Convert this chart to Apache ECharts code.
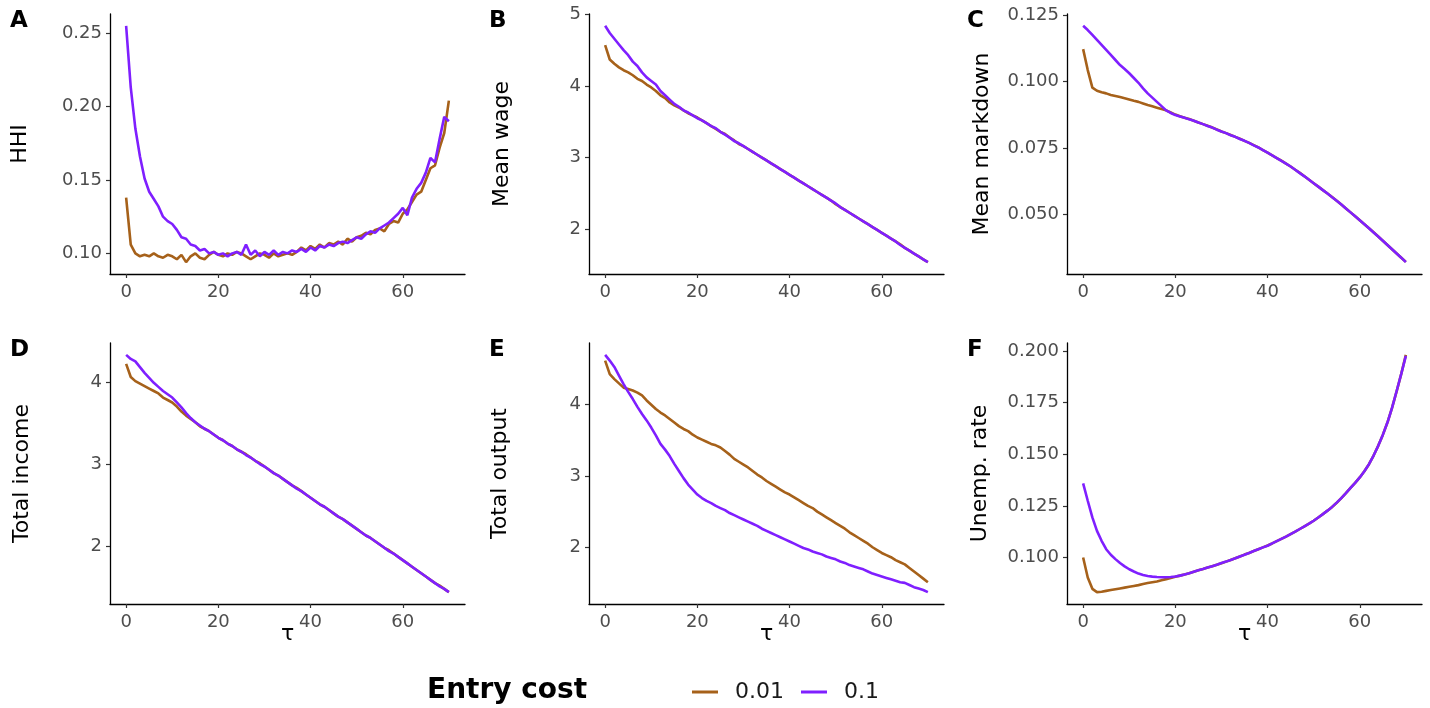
<!DOCTYPE html>
<html>
<head>
<meta charset="utf-8">
<script src="https://cdn.jsdelivr.net/npm/echarts@6/dist/echarts.min.js"></script>
<style>
html,body{margin:0;padding:0;background:#fff;}
#chart{width:1430px;height:708px;}
</style>
</head>
<body>
<div id="chart"></div>
<script>
// ---------- data ----------
const tau = [0,1,2,3,4,5,6,7,8,9,10,11,12,13,14,15,16,17,18,19,20,21,22,23,24,25,26,27,28,29,30,31,32,33,34,35,36,37,38,39,40,41,42,43,44,45,46,47,48,49,50,51,52,53,54,55,56,57,58,59,60,61,62,63,64,65,66,67,68,69,70];
const seriesNames = ["0.01", "0.1"];
const xTicks = [0, 20, 40, 60];

// A: HHI
const hhiLow = [0.138,0.106,0.100,0.098,0.099,0.098,0.100,0.098,0.097,0.099,0.098,0.096,0.099,0.094,0.098,0.100,0.097,0.096,0.099,0.101,0.099,0.098,0.100,0.099,0.101,0.100,0.098,0.096,0.098,0.100,0.099,0.097,0.100,0.098,0.099,0.100,0.099,0.101,0.104,0.102,0.105,0.103,0.106,0.104,0.107,0.106,0.108,0.106,0.110,0.108,0.111,0.112,0.114,0.113,0.116,0.117,0.115,0.120,0.122,0.121,0.127,0.130,0.135,0.140,0.142,0.150,0.158,0.160,0.172,0.182,0.204];
const hhiHigh = [0.255,0.213,0.185,0.166,0.151,0.142,0.137,0.132,0.125,0.122,0.120,0.116,0.111,0.110,0.106,0.105,0.102,0.103,0.100,0.101,0.099,0.100,0.098,0.100,0.101,0.099,0.106,0.099,0.102,0.098,0.101,0.099,0.102,0.099,0.101,0.100,0.102,0.101,0.103,0.101,0.104,0.102,0.105,0.104,0.106,0.105,0.107,0.108,0.107,0.109,0.111,0.110,0.113,0.115,0.114,0.117,0.119,0.121,0.124,0.127,0.131,0.126,0.138,0.144,0.148,0.155,0.165,0.162,0.178,0.193,0.190];

// B: Mean wage
const wageLow = [4.57,4.37,4.31,4.26,4.22,4.19,4.15,4.10,4.07,4.02,3.98,3.93,3.87,3.83,3.77,3.73,3.70,3.66,3.62,3.59,3.56,3.52,3.48,3.44,3.40,3.36,3.33,3.28,3.24,3.19,3.16,3.12,3.08,3.04,3.00,2.96,2.92,2.88,2.84,2.80,2.76,2.72,2.68,2.64,2.60,2.56,2.52,2.48,2.44,2.40,2.35,2.31,2.27,2.23,2.19,2.15,2.11,2.07,2.03,1.99,1.95,1.91,1.87,1.83,1.79,1.74,1.70,1.66,1.62,1.58,1.54];
const wageHigh = [4.84,4.74,4.66,4.58,4.50,4.43,4.34,4.28,4.19,4.12,4.07,4.02,3.93,3.87,3.81,3.75,3.71,3.66,3.63,3.59,3.55,3.52,3.48,3.44,3.41,3.36,3.32,3.28,3.23,3.20,3.16,3.12,3.08,3.04,3.00,2.96,2.92,2.88,2.84,2.80,2.76,2.72,2.68,2.64,2.60,2.56,2.52,2.48,2.44,2.40,2.36,2.31,2.27,2.23,2.19,2.15,2.11,2.07,2.03,1.99,1.95,1.91,1.87,1.83,1.78,1.74,1.70,1.66,1.62,1.58,1.54];

// C: Mean markdown
const markLow = [0.1123,0.1044,0.0978,0.0966,0.0960,0.0956,0.0950,0.0946,0.0942,0.0938,0.0933,0.0928,0.0924,0.0918,0.0912,0.0907,0.0902,0.0897,0.0892,0.0884,0.0876,0.0870,0.0864,0.0859,0.0853,0.0846,0.0840,0.0834,0.0827,0.0820,0.0812,0.0806,0.0799,0.0792,0.0785,0.0777,0.0769,0.0761,0.0752,0.0742,0.0732,0.0722,0.0712,0.0702,0.0691,0.0680,0.0668,0.0656,0.0643,0.0630,0.0617,0.0604,0.0591,0.0578,0.0565,0.0551,0.0537,0.0522,0.0507,0.0492,0.0477,0.0462,0.0447,0.0432,0.0416,0.0400,0.0384,0.0368,0.0352,0.0336,0.0320];
const markHigh = [0.1211,0.1195,0.1177,0.1158,0.1139,0.1120,0.1101,0.1082,0.1063,0.1048,0.1032,0.1014,0.0996,0.0975,0.0956,0.0940,0.0924,0.0908,0.0892,0.0882,0.0874,0.0869,0.0864,0.0858,0.0853,0.0846,0.0840,0.0833,0.0827,0.0819,0.0812,0.0806,0.0798,0.0792,0.0784,0.0777,0.0769,0.0760,0.0752,0.0742,0.0732,0.0722,0.0712,0.0701,0.0691,0.0680,0.0668,0.0655,0.0643,0.0630,0.0617,0.0604,0.0591,0.0578,0.0564,0.0551,0.0537,0.0522,0.0507,0.0492,0.0477,0.0462,0.0447,0.0431,0.0416,0.0400,0.0384,0.0368,0.0352,0.0336,0.0319];

// D: Total income
const incomeLow = [4.22,4.06,4.01,3.98,3.95,3.92,3.89,3.86,3.81,3.78,3.75,3.70,3.64,3.59,3.55,3.51,3.46,3.43,3.40,3.36,3.32,3.29,3.25,3.22,3.18,3.15,3.12,3.08,3.04,3.01,2.97,2.93,2.89,2.86,2.82,2.78,2.74,2.71,2.67,2.63,2.59,2.55,2.51,2.48,2.44,2.40,2.36,2.33,2.29,2.25,2.21,2.17,2.13,2.10,2.06,2.02,1.98,1.95,1.91,1.87,1.83,1.79,1.75,1.71,1.67,1.63,1.59,1.55,1.52,1.48,1.44];
const incomeHigh = [4.33,4.28,4.25,4.18,4.11,4.05,3.99,3.94,3.89,3.85,3.81,3.75,3.69,3.62,3.56,3.51,3.47,3.43,3.40,3.36,3.32,3.29,3.25,3.22,3.18,3.15,3.11,3.08,3.04,3.00,2.97,2.93,2.89,2.86,2.82,2.78,2.74,2.70,2.67,2.63,2.59,2.55,2.51,2.48,2.44,2.40,2.36,2.33,2.29,2.25,2.21,2.17,2.13,2.10,2.06,2.02,1.98,1.94,1.91,1.87,1.83,1.79,1.75,1.71,1.67,1.63,1.59,1.55,1.51,1.48,1.44];

// E: Total output
const outputLow = [4.62,4.43,4.36,4.30,4.24,4.22,4.20,4.17,4.13,4.06,4.00,3.94,3.89,3.85,3.80,3.75,3.70,3.66,3.63,3.58,3.54,3.51,3.48,3.45,3.43,3.40,3.35,3.30,3.24,3.20,3.16,3.12,3.07,3.02,2.98,2.93,2.89,2.85,2.81,2.77,2.74,2.70,2.66,2.62,2.58,2.55,2.50,2.46,2.42,2.38,2.34,2.30,2.26,2.21,2.17,2.13,2.09,2.05,2.00,1.96,1.92,1.89,1.86,1.82,1.79,1.76,1.71,1.66,1.61,1.56,1.51];
const outputHigh = [4.70,4.62,4.53,4.41,4.29,4.18,4.08,3.97,3.87,3.78,3.68,3.57,3.45,3.37,3.28,3.17,3.07,2.97,2.88,2.81,2.74,2.69,2.65,2.62,2.58,2.55,2.52,2.48,2.45,2.42,2.39,2.36,2.33,2.30,2.26,2.23,2.20,2.17,2.14,2.11,2.08,2.05,2.02,1.99,1.97,1.94,1.92,1.90,1.87,1.85,1.83,1.80,1.78,1.75,1.73,1.71,1.69,1.66,1.63,1.61,1.59,1.57,1.55,1.53,1.51,1.50,1.47,1.44,1.42,1.40,1.37];

// F: Unemployment rate
const unempLow = [0.1000,0.0903,0.0848,0.0832,0.0834,0.0838,0.0842,0.0846,0.0850,0.0854,0.0858,0.0862,0.0866,0.0871,0.0876,0.0880,0.0884,0.0890,0.0895,0.0900,0.0906,0.0912,0.0918,0.0924,0.0931,0.0938,0.0944,0.0951,0.0958,0.0965,0.0972,0.0980,0.0988,0.0996,0.1005,0.1014,0.1022,0.1031,0.1040,0.1049,0.1058,0.1068,0.1079,0.1090,0.1101,0.1113,0.1125,0.1138,0.1151,0.1164,0.1178,0.1194,0.1210,0.1227,0.1245,0.1265,0.1288,0.1312,0.1337,0.1362,0.1388,0.1418,0.1452,0.1494,0.1541,0.1594,0.1654,0.1725,0.1805,0.1890,0.1982];
const unempHigh = [0.1359,0.1275,0.1194,0.1129,0.1081,0.1040,0.1013,0.0992,0.0973,0.0957,0.0943,0.0932,0.0922,0.0915,0.0910,0.0907,0.0905,0.0904,0.0904,0.0905,0.0908,0.0912,0.0918,0.0924,0.0931,0.0938,0.0944,0.0951,0.0958,0.0965,0.0973,0.0980,0.0988,0.0996,0.1005,0.1013,0.1022,0.1031,0.1040,0.1049,0.1057,0.1068,0.1079,0.1090,0.1101,0.1113,0.1125,0.1138,0.1151,0.1164,0.1178,0.1194,0.1210,0.1227,0.1245,0.1266,0.1288,0.1312,0.1337,0.1362,0.1388,0.1418,0.1452,0.1494,0.1541,0.1594,0.1654,0.1725,0.1807,0.1890,0.1977];

// panel definitions (titles, ticks)
const panelTitles = ["HHI", "Mean wage", "Mean markdown", "Total income", "Total output", "Unemp. rate"];
const panelLetters = ["A", "B", "C", "D", "E", "F"];
const panelLow = [hhiLow, wageLow, markLow, incomeLow, outputLow, unempLow];
const panelHigh = [hhiHigh, wageHigh, markHigh, incomeHigh, outputHigh, unempHigh];
const yTicks = [
  [0.10, 0.15, 0.20, 0.25],
  [2, 3, 4, 5],
  [0.050, 0.075, 0.100, 0.125],
  [2, 3, 4],
  [2, 3, 4],
  [0.100, 0.125, 0.150, 0.175, 0.200]
];
const yDecimals = [2, 0, 3, 0, 0, 3];

// ---------- layout ----------
const colors = ["#A6611A", "#7F1FFF"];
const colLeft = [110, 589, 1067];
const rowTop = [14, 343];
const gridW = 355, gridH = 260;
const yNameGap = [79, 76, 74, 77, 78, 76];

function expandRange(a, b) {
  let mn = Infinity, mx = -Infinity;
  a.concat(b).forEach(v => { mn = Math.min(mn, v); mx = Math.max(mx, v); });
  const pad = (mx - mn) * 0.05;
  return [mn - pad, mx + pad];
}

const font = "DejaVu Sans";
const grids = [], xAxes = [], yAxes = [], series = [], graphics = [];
for (let p = 0; p < 6; p++) {
  const r = Math.floor(p / 3), c = p % 3;
  grids.push({ left: colLeft[c], top: rowTop[r], width: gridW, height: r === 1 ? gridH + 1 : gridH, outerBoundsMode: 'none', containLabel: false });
  xAxes.push({
    type: 'value', gridIndex: p, min: -3.5, max: 73.5,
    name: r === 1 ? 'τ' : '', nameLocation: 'middle', nameGap: 19, nameMoveOverlap: false,
    nameTextStyle: { fontFamily: font, fontSize: 22, color: '#000' },
    axisLine: { show: true, onZero: false, lineStyle: { color: '#000', width: 1.3 } },
    axisTick: { show: true, length: 4, lineStyle: { color: '#333', width: 1.2 }, customValues: xTicks },
    axisLabel: { fontFamily: font, fontSize: 18, color: '#4D4D4D', margin: 9, customValues: xTicks },
    splitLine: { show: false }
  });
  const rng = expandRange(panelLow[p], panelHigh[p]);
  const dec = yDecimals[p];
  yAxes.push({
    type: 'value', gridIndex: p, min: rng[0], max: rng[1],
    name: panelTitles[p], nameLocation: 'middle', nameGap: yNameGap[p], nameRotate: 90, nameMoveOverlap: false,
    nameTextStyle: { fontFamily: font, fontSize: 22, color: '#000' },
    axisLine: { show: true, onZero: false, lineStyle: { color: '#000', width: 1.3 } },
    axisTick: { show: true, length: 4, lineStyle: { color: '#333', width: 1.2 }, customValues: yTicks[p] },
    axisLabel: { fontFamily: font, fontSize: 18, color: '#4D4D4D', margin: 8, customValues: yTicks[p],
      formatter: v => Number(v).toFixed(dec) },
    splitLine: { show: false }
  });
  [panelLow[p], panelHigh[p]].forEach((arr, k) => {
    series.push({
      type: 'line', name: seriesNames[k], xAxisIndex: p, yAxisIndex: p,
      data: tau.map((t, i) => [t, arr[i]]),
      showSymbol: false, symbol: 'none', smooth: false,
      lineStyle: { color: colors[k], width: 2.6 },
      itemStyle: { color: colors[k] },
      z: 2 + k, animation: false
    });
  });
  graphics.push({
    type: 'text', left: [10, 489, 967][c], top: rowTop[r] - 4,
    style: { text: panelLetters[p], font: 'bold 23px "DejaVu Sans"', fill: '#000' }
  });
}
graphics.push({
  type: 'text', left: 427, top: 677,
  style: { text: 'Entry cost', font: 'bold 28px "DejaVu Sans"', fill: '#000' }
});

const chart = echarts.init(document.getElementById('chart'), null, { renderer: 'canvas' });
chart.setOption({
  animation: false,
  backgroundColor: '#fff',
  grid: grids, xAxis: xAxes, yAxis: yAxes, series: series,
  graphic: graphics,
  legend: {
    data: seriesNames, left: 687, top: 676, orient: 'horizontal',
    icon: 'rect', itemWidth: 26, itemHeight: 3, itemGap: 17,
    textStyle: { fontFamily: font, fontSize: 22, color: '#1a1a1a', padding: [0, 0, 0, 12] }
  }
});
</script>
</body>
</html>
